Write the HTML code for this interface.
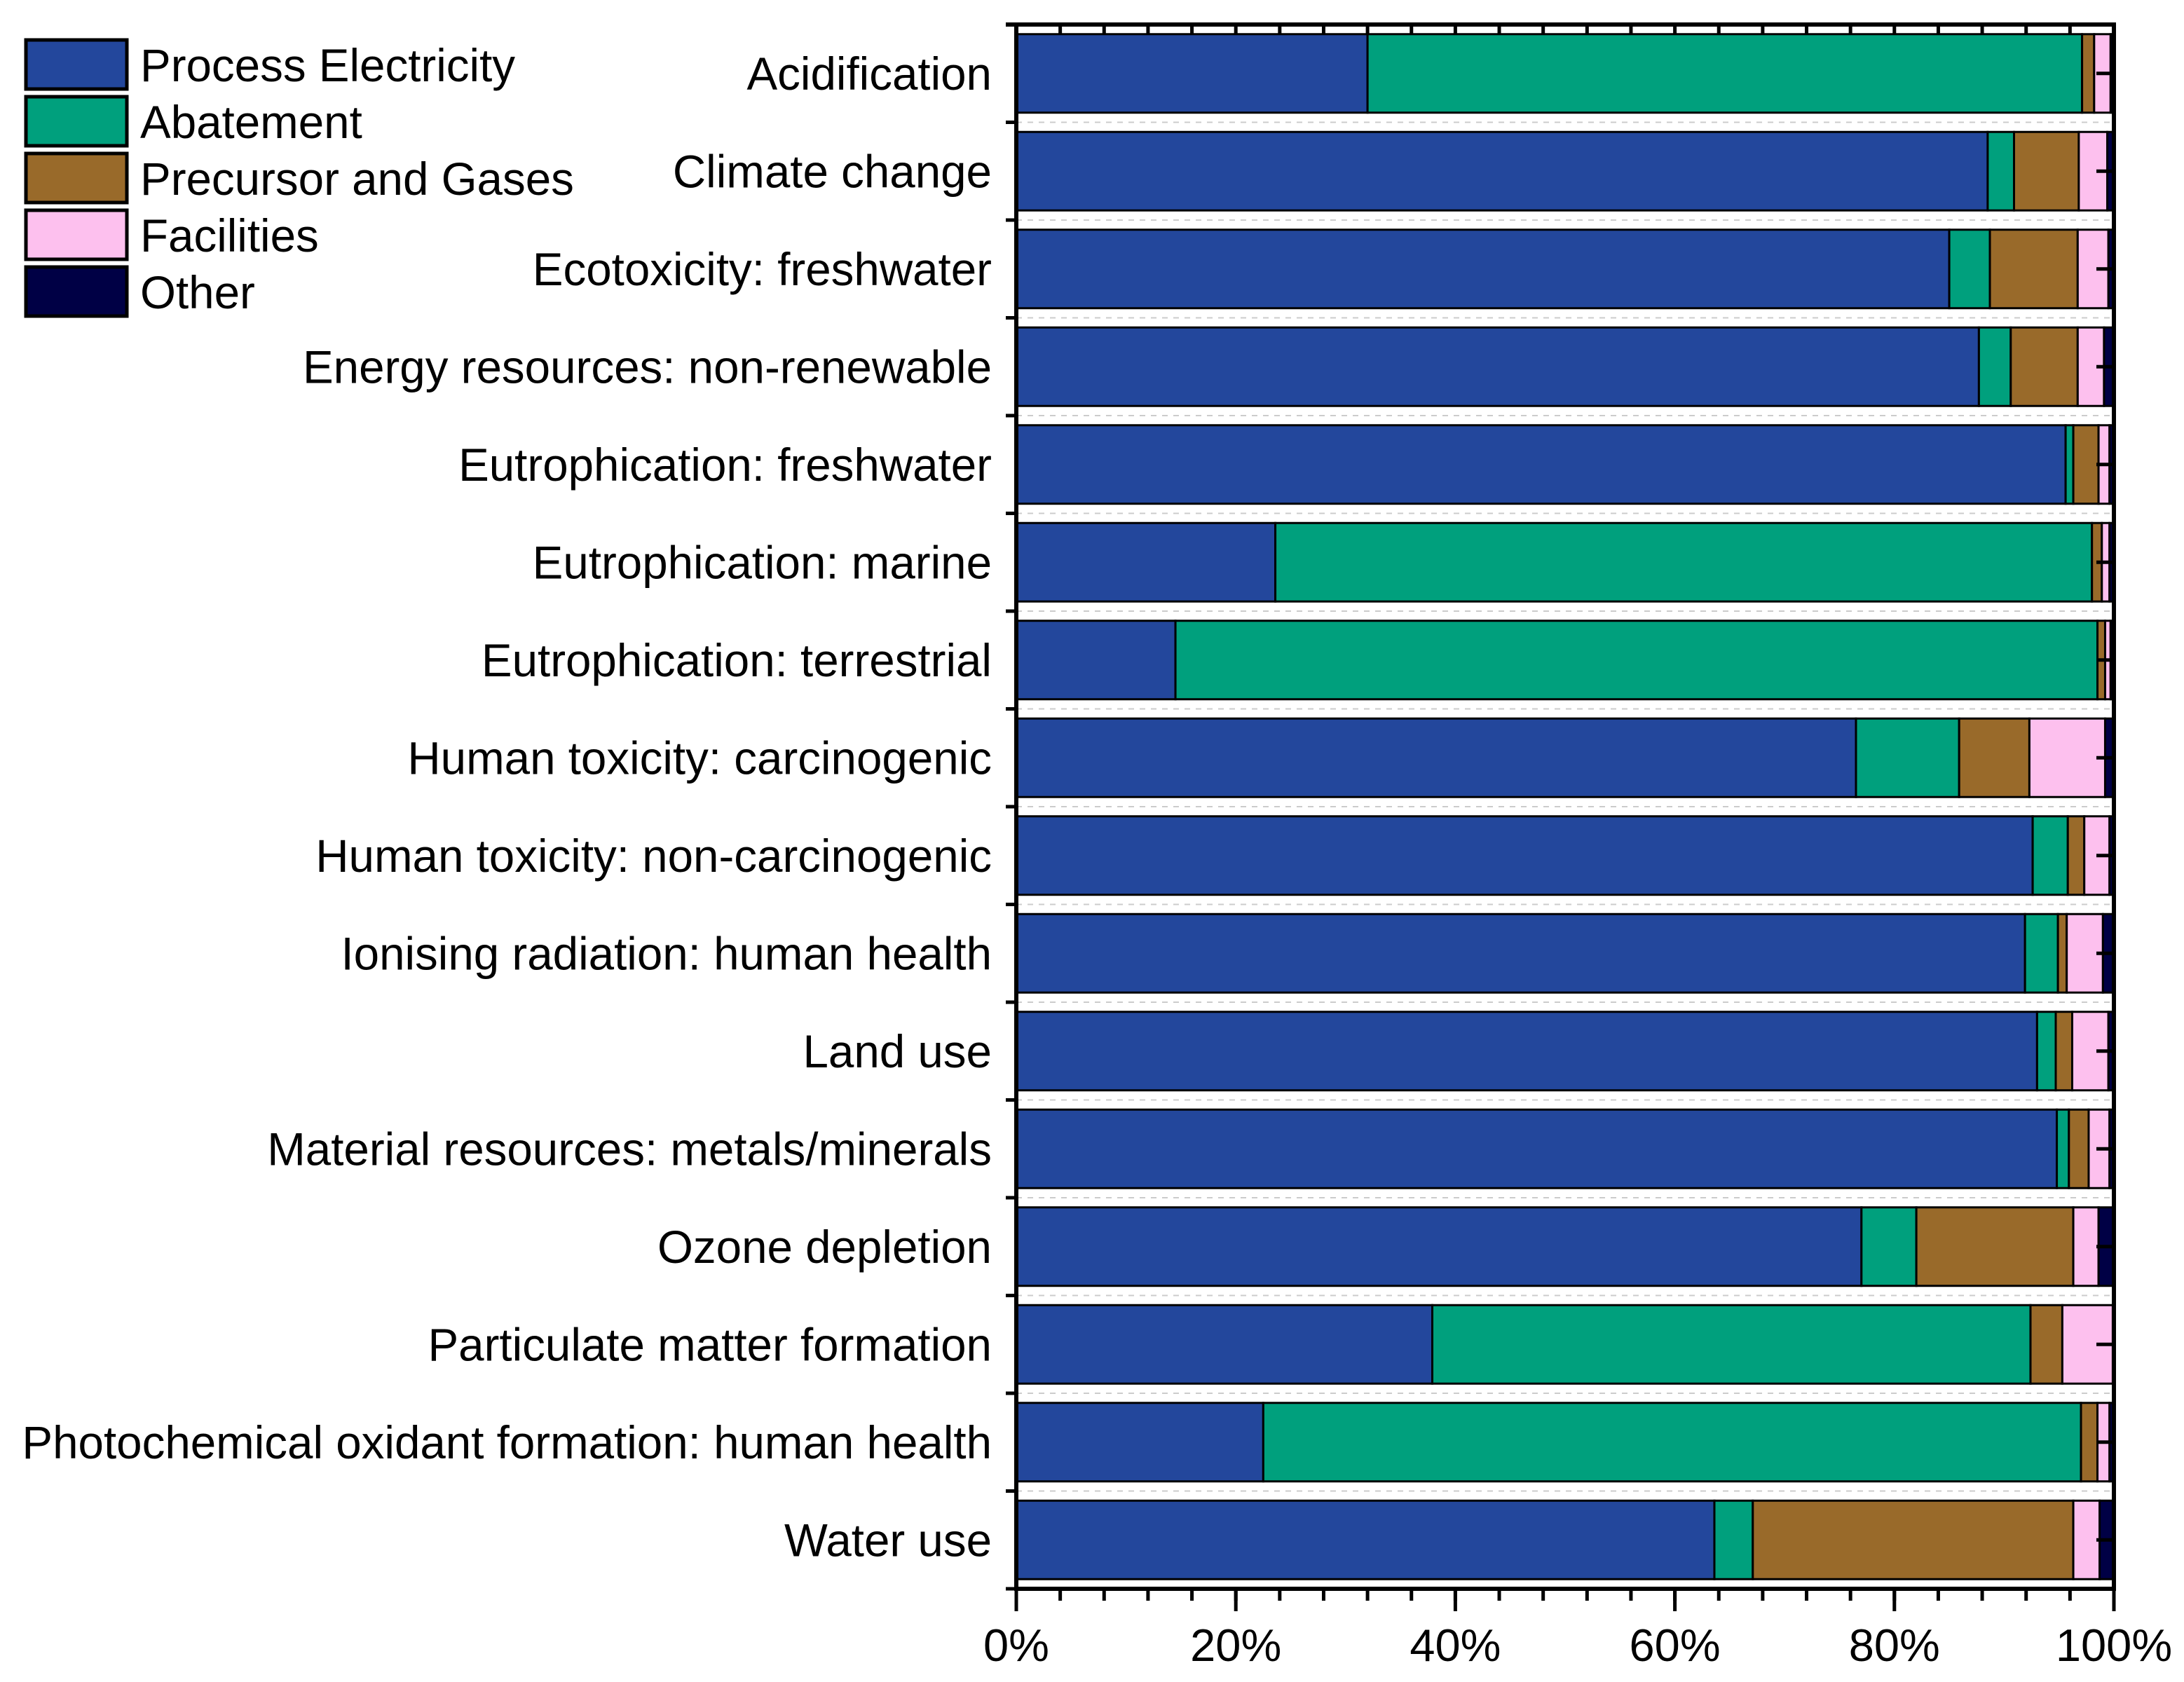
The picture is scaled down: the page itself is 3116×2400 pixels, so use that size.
<!DOCTYPE html>
<html><head><meta charset="utf-8"><style>
html,body{margin:0;padding:0;background:#fff;}
svg text{font-family:"Liberation Sans",Arial,sans-serif;fill:#000;}
</style></head><body>
<svg id="chart" width="3116" height="2395" xmlns="http://www.w3.org/2000/svg"></svg>
<script>
const categories=["Acidification","Climate change","Ecotoxicity: freshwater","Energy resources: non-renewable","Eutrophication: freshwater","Eutrophication: marine","Eutrophication: terrestrial","Human toxicity: carcinogenic","Human toxicity: non-carcinogenic","Ionising radiation: human health","Land use","Material resources: metals/minerals","Ozone depletion","Particulate matter formation","Photochemical oxidant formation: human health","Water use"];
const seriesNames=["Process Electricity","Abatement","Precursor and Gases","Facilities","Other"];
const processElectricity=[32.0,88.5,85.0,87.7,95.6,23.6,14.5,76.5,92.6,91.9,93.0,94.8,77.0,37.9,22.5,63.6];
const abatement=[65.1,2.4,3.7,2.9,0.7,74.4,84.0,9.4,3.2,3.0,1.7,1.1,5.0,54.5,74.5,3.5];
const precursorGases=[1.1,5.9,8.0,6.1,2.3,0.9,0.7,6.4,1.5,0.8,1.5,1.8,14.3,2.9,1.5,29.2];
const facilities=[1.5,2.6,2.8,2.4,1.0,0.7,0.5,6.9,2.3,3.3,3.3,1.9,2.3,4.6,1.1,2.4];
const other=[0.3,0.6,0.5,0.9,0.4,0.4,0.3,0.8,0.4,1.0,0.5,0.4,1.4,0.1,0.4,1.3];
const xTickLabels=["0%","20%","40%","60%","80%","100%"];
const xTickValues=[0,20,40,60,80,100];

const colors=["#23479C","#00A07D","#996A2A","#FDC0EE","#000045"];
const svg=document.getElementById('chart');
const NS="http://www.w3.org/2000/svg";
const L=1450,R=3016,T=35,B=2267;
const band=(B-T)/categories.length, barH=112;
const xs=v=>L+(R-L)*v/100;
const yc=i=>T+band*(i+0.5);
function mk(tag,attrs){const e=document.createElementNS(NS,tag);for(const k in attrs)e.setAttribute(k,attrs[k]);svg.appendChild(e);return e;}

for(let i=1;i<categories.length;i++){
  const y=T+band*i;
  const g=mk('line',{x1:L,x2:R,y1:y,y2:y,stroke:'#ccc','stroke-width':2,'stroke-dasharray':'8,8'});
  
  
}
const series=[processElectricity,abatement,precursorGases,facilities,other];
categories.forEach((c,i)=>{
  let acc=0;
  series.forEach((s,j)=>{
    const v=s[i];
    const r=mk('rect',{x:xs(acc),y:yc(i)-barH/2,width:xs(acc+v)-xs(acc),height:barH,fill:colors[j],stroke:'#000','stroke-width':3});
    
    
    acc+=v;
  });
  const t=mk('text',{x:1415,y:yc(i)+23,'text-anchor':'end','font-size':65.5});
  t.textContent=c;
  
  
  const rt=mk('line',{x1:R-25,x2:R,y1:yc(i),y2:yc(i),stroke:'#000','stroke-width':5});
  
  
  const lt=mk('line',{x1:L-15,x2:L,y1:T+band*(i+1),y2:T+band*(i+1),stroke:'#000','stroke-width':5});
  
  
});
for(let v=0;v<=100;v+=4){
  const x=xs(v);
  const top=mk('line',{x1:x,x2:x,y1:T,y2:T+15,stroke:'#000','stroke-width':5});
  
  
  const bt=mk('line',{x1:x,x2:x,y1:B,y2:B+17,stroke:'#000','stroke-width':5});
  
  
}
xTickValues.forEach((v,k)=>{
  const x=xs(v);
  const mt=mk('line',{x1:x,x2:x,y1:B,y2:B+32,stroke:'#000','stroke-width':5});
  
  
  const t=mk('text',{x:x,y:2370,'text-anchor':'middle','font-size':65});
  t.textContent=xTickLabels[k];
  
  
});
const fr=mk('rect',{x:L,y:T,width:R-L,height:B-T,fill:'none',stroke:'#000','stroke-width':6});


const tl=mk('line',{x1:L-15,x2:R,y1:T,y2:T,stroke:'#000','stroke-width':6});


seriesNames.forEach((n,j)=>{
  const y=57+j*81;
  const r=mk('rect',{x:37,y:y,width:144,height:70,fill:colors[j],stroke:'#000','stroke-width':5});
  
  
  const t=mk('text',{x:200,y:y+59,'font-size':65.5});
  t.textContent=n;
  
  
});
</script>
</body></html>
